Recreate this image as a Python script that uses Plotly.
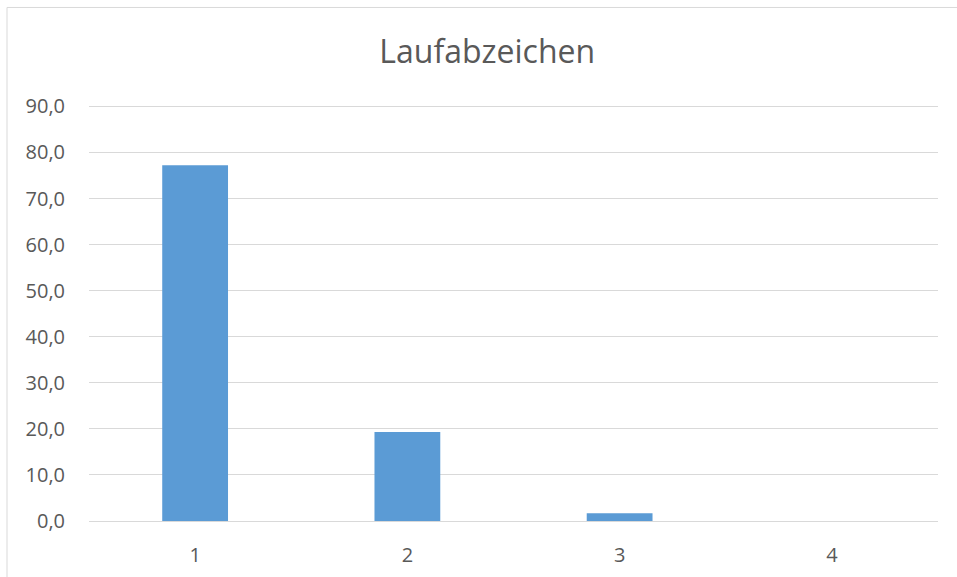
import plotly.graph_objects as go

categories = ["1", "2", "3", "4"]
values = [77.2, 19.3, 1.7, 0.0]
tick_vals = [0, 10, 20, 30, 40, 50, 60, 70, 80, 90]
tick_text = ["0,0", "10,0", "20,0", "30,0", "40,0", "50,0", "60,0", "70,0", "80,0", "90,0"]

fig = go.Figure(go.Bar(x=categories, y=values, marker=dict(color="#5B9BD5", line=dict(width=0))))

R = 90.3
top_px = 521 - 415 * R / 90

fig.update_layout(
    width=957, height=577,
    margin=dict(l=89, r=19, t=top_px, b=56),
    paper_bgcolor="white", plot_bgcolor="white",
    bargap=0.69,
    showlegend=False,
    title=dict(text="Laufabzeichen", x=0.469, xref="paper", xanchor="center",
               y=1 - 52 / 577, yref="container", yanchor="middle",
               font=dict(family="Open Sans", size=32, color="#595959")),
    font=dict(family="Open Sans", size=20, color="#595959"),
)

fig.update_yaxes(range=[0, R], tickvals=tick_vals, ticktext=tick_text,
                 showgrid=True, gridcolor="#d9d9d9", gridwidth=1,
                 zeroline=False, showline=False, ticks="", ticklabelstandoff=23,
                 automargin=False,
                 tickfont=dict(family="Open Sans", size=20, color="#595959"))
fig.update_xaxes(type="category", showgrid=False, zeroline=False,
                 showline=True, linecolor="#d9d9d9", linewidth=1, ticks="",
                 ticklabelstandoff=16, automargin=False,
                 tickfont=dict(family="Open Sans", size=20, color="#595959"))

# chart-area border (left and top visible)
ph = 521 - top_px
fig.add_shape(type="rect", xref="paper", yref="paper",
              x0=(7 - 89) / 849, x1=1.2, y0=-0.5, y1=1 + (top_px - 7) / ph,
              line=dict(color="#d9d9d9", width=1), fillcolor="rgba(0,0,0,0)", layer="below")

fig.write_html("out.html", config={"displayModeBar": False},
               post_script="document.body.style.margin='0';document.body.style.overflow='hidden';")
